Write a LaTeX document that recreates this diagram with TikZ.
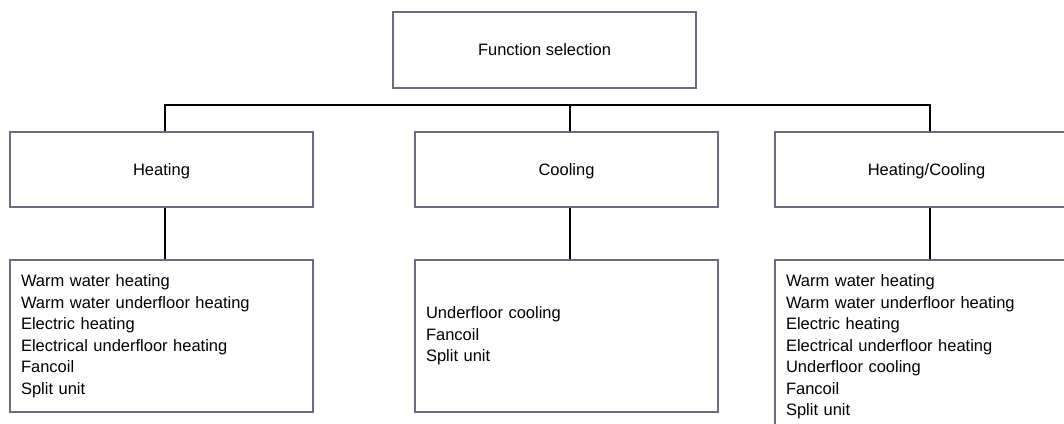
\documentclass[tikz,border=0pt]{standalone}
\usepackage{fontspec}
\setmainfont{Liberation Sans}
\definecolor{boxedge}{RGB}{108,106,130}

\begin{document}
\begin{tikzpicture}[x=1pt, y=-1pt,
        box/.style={draw=boxedge, line width=1.5pt, minimum width=303pt, minimum height=76pt,
            inner sep=0pt, font=\fontsize{16.5}{21.5}\selectfont},
        headbox/.style={box, text depth=0pt},
        listbox/.style={box, text width=281pt, inner xsep=11pt, align=left},
        wire/.style={line width=2pt}]
        \useasboundingbox (0,0) rectangle (1064,423);
        \clip (0,0) rectangle (1064,423);

        \node[headbox] (fsel) at (544.5,50) {Function selection};

        \node[headbox, minimum height=75pt] (heat) at (161.5,169.5) {Heating};
        \node[headbox, minimum height=75pt] (cool) at (566.5,169.5) {Cooling};
        \node[headbox, minimum height=75pt] (hc) at (926.5,169.5) {Heating/Cooling};

        \node[listbox, minimum height=152pt] (heatlist) at (161.5,336) {Warm water heating\\Warm water underfloor heating\\Electric heating\\Electrical underfloor heating\\Fancoil\\Split unit};
        \node[listbox, minimum height=152pt] (coollist) at (566.5,336) {Underfloor cooling\\Fancoil\\Split unit};
        \node[listbox, minimum height=173.5pt] (hclist) at (926.5,346.75) {Warm water heating\\Warm water underfloor heating\\Electric heating\\Electrical underfloor heating\\Underfloor cooling\\Fancoil\\Split unit};

        % bus under the top box
        \coordinate (bus) at (569.5,105);
        \draw[wire] ([xshift=3pt]heat.north) |- (bus) -| ([xshift=3pt]hc.north);
        \draw[wire] (bus) -- ([xshift=3pt]cool.north);
        \foreach \a/\b in {heat/heatlist, cool/coollist, hc/hclist}
            \draw[wire] ([xshift=3pt]\a.south) -- ([xshift=3pt]\b.north);
    \end{tikzpicture}
\end{document}
